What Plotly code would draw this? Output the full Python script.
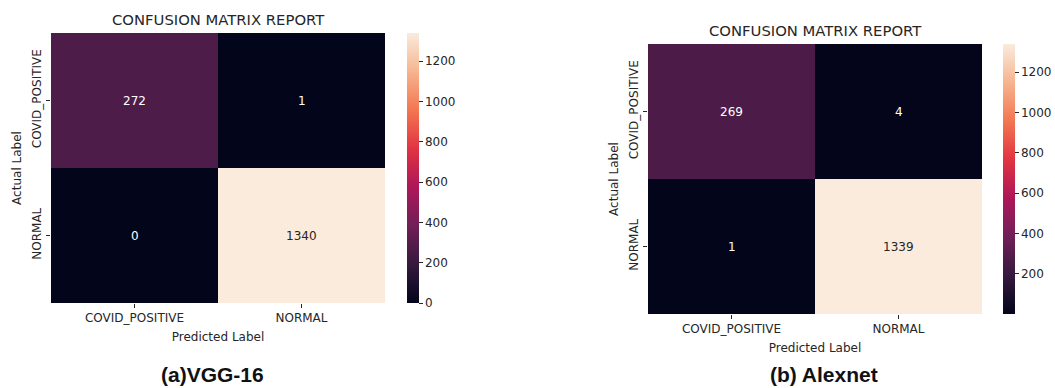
import plotly.graph_objects as go

W, H = 1055, 388

labels = ["COVID_POSITIVE", "NORMAL"]
vgg_values = [[272, 1], [0, 1340]]
alex_values = [[269, 4], [1, 1339]]
chart_title = "CONFUSION MATRIX REPORT"
captions = ["(a)VGG-16", "(b) Alexnet"]
x_title = "Predicted Label"
y_title = "Actual Label"

# seaborn "rocket" colormap approximation
rocket = [
    [0.0, "#03051a"], [1/7, "#35193e"], [2/7, "#701f57"], [3/7, "#ad1759"],
    [4/7, "#e13342"], [5/7, "#f37651"], [6/7, "#f6b48f"], [1.0, "#faebdd"],
]

FONT = "DejaVu Sans"
TXT = "#262626"


def px_x(v):
    return v / W


def px_y(v):
    return (H - v) / H


# panel geometry in pixels (left, right, top, bottom, cbar_left)
panels = [
    dict(l=51, r=385, t=33, b=303, cb=407),
    dict(l=648, r=982, t=44, b=314, cb=1003),
]

fig = go.Figure()
datasets = [vgg_values, alex_values]
annotations = []
for i, (vals, p) in enumerate(zip(datasets, panels)):
    sfx = "" if i == 0 else str(i + 1)
    fig.add_trace(go.Heatmap(
        z=vals, x=labels, y=labels,
        coloraxis="coloraxis" + sfx,
        xaxis="x" + sfx, yaxis="y" + sfx,
        hovertemplate="%{y} / %{x}: %{z}<extra></extra>",
    ))
    flat = [v for row in vals for v in row]
    vmin, vmax = min(flat), max(flat)
    fig.layout["coloraxis" + sfx] = dict(
        colorscale=rocket, cmin=vmin, cmax=vmax,
        colorbar=dict(
            x=px_x(p["cb"]), xanchor="left",
            y=px_y(p["t"]), yanchor="top",
            len=(p["b"] - p["t"]) / H, lenmode="fraction",
            thickness=12, thicknessmode="pixels",
            outlinewidth=0, xpad=0, ypad=0,
            ticks="outside", ticklen=4, tickcolor=TXT,
            tickmode="linear", tick0=0, dtick=200,
            tickfont=dict(family=FONT, size=12, color=TXT),
        ),
    )
    fig.layout["xaxis" + sfx] = dict(
        domain=[px_x(p["l"]), px_x(p["r"])],
        anchor="y" + sfx,
        ticks="outside", ticklen=4, tickcolor=TXT,
        tickfont=dict(family=FONT, size=12, color=TXT),
        showgrid=False, zeroline=False, showline=False, automargin=False,
        title=dict(text=x_title, font=dict(family=FONT, size=12, color=TXT), standoff=8),
    )
    fig.layout["yaxis" + sfx] = dict(
        domain=[px_y(p["b"]), px_y(p["t"])],
        anchor="x" + sfx,
        autorange="reversed",
        tickangle=-90,
        ticks="outside", ticklen=4, tickcolor=TXT,
        tickfont=dict(family=FONT, size=12, color=TXT),
        showgrid=False, zeroline=False, showline=False, automargin=False,
        title=dict(text=y_title, font=dict(family=FONT, size=12, color=TXT), standoff=6),
    )
    # cell value annotations
    for r, ylab in enumerate(labels):
        for c, xlab in enumerate(labels):
            v = vals[r][c]
            frac = (v - vmin) / (vmax - vmin)
            annotations.append(dict(
                x=xlab, y=ylab, xref="x" + sfx, yref="y" + sfx,
                text=str(v), showarrow=False,
                font=dict(family=FONT, size=12, color=TXT if frac > 0.6 else "#ffffff"),
            ))
    # panel title
    annotations.append(dict(
        x=px_x((p["l"] + p["r"]) / 2), y=px_y(p["t"] - 3), xref="paper", yref="paper",
        xanchor="center", yanchor="bottom", text=chart_title, showarrow=False,
        font=dict(family=FONT, size=14.8, color=TXT),
    ))

caption_x = [212, 824]
for cap, cx in zip(captions, caption_x):
    annotations.append(dict(
        x=px_x(cx), y=px_y(374), xref="paper", yref="paper",
        xanchor="center", yanchor="middle", text="<b>" + cap + "</b>", showarrow=False,
        borderpad=0,
        font=dict(family="Liberation Sans, Arial", size=21, color="#111111"),
    ))

fig.update_layout(
    width=W, height=H, autosize=False,
    margin=dict(l=0, r=0, t=0, b=0, pad=0),
    paper_bgcolor="white", plot_bgcolor="white",
    annotations=annotations,
    showlegend=False,
)

fig.write_html("out.html")
